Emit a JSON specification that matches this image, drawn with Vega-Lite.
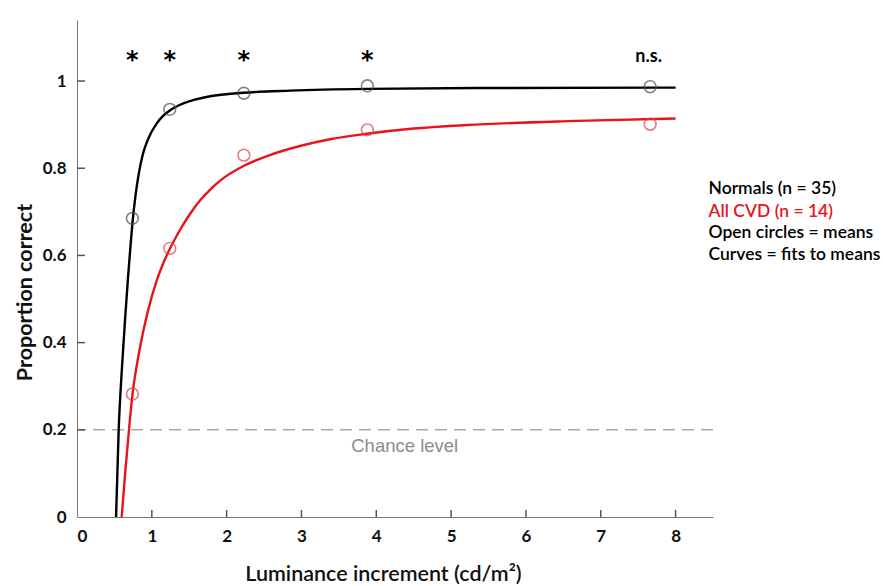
{
  "$schema": "https://vega.github.io/schema/vega-lite/v6.json",
  "width": 636,
  "height": 497,
  "autosize": {"type": "none"},
  "padding": {"left": 77, "top": 20, "right": 170, "bottom": 69},
  "background": "white",
  "config": {
    "font": "Lato",
    "view": {"stroke": null},
    "axis": {"grid": false, "ticks": false, "domainColor": "#777", "labelColor": "#111", "titleColor": "#111", "labelFont": "Lato", "labelFontSize": 17, "labelFontWeight": "bold", "titleFont": "Lato", "titleFontSize": 21.5, "titleFontWeight": "bold"}
  },
  "datasets": {
    "curves": [
      {"group": "Normals", "x": 0.522, "y": 0},
      {"group": "Normals", "x": 0.557, "y": 0.2},
      {"group": "Normals", "x": 0.6, "y": 0.34},
      {"group": "Normals", "x": 0.642, "y": 0.452},
      {"group": "Normals", "x": 0.68, "y": 0.545},
      {"group": "Normals", "x": 0.718, "y": 0.628},
      {"group": "Normals", "x": 0.74, "y": 0.672},
      {"group": "Normals", "x": 0.78, "y": 0.735},
      {"group": "Normals", "x": 0.82, "y": 0.782},
      {"group": "Normals", "x": 0.88, "y": 0.832},
      {"group": "Normals", "x": 0.953, "y": 0.868},
      {"group": "Normals", "x": 1.066, "y": 0.903},
      {"group": "Normals", "x": 1.15, "y": 0.92},
      {"group": "Normals", "x": 1.245, "y": 0.933},
      {"group": "Normals", "x": 1.37, "y": 0.945},
      {"group": "Normals", "x": 1.51, "y": 0.954},
      {"group": "Normals", "x": 1.78, "y": 0.965},
      {"group": "Normals", "x": 2.22, "y": 0.973},
      {"group": "Normals", "x": 2.85, "y": 0.978},
      {"group": "Normals", "x": 3.875, "y": 0.982},
      {"group": "Normals", "x": 5.5, "y": 0.984},
      {"group": "Normals", "x": 8, "y": 0.985},
      {"group": "CVD", "x": 0.597, "y": 0},
      {"group": "CVD", "x": 0.645, "y": 0.103},
      {"group": "CVD", "x": 0.696, "y": 0.203},
      {"group": "CVD", "x": 0.72, "y": 0.246},
      {"group": "CVD", "x": 0.744, "y": 0.285},
      {"group": "CVD", "x": 0.776, "y": 0.324},
      {"group": "CVD", "x": 0.8, "y": 0.349},
      {"group": "CVD", "x": 0.843, "y": 0.39},
      {"group": "CVD", "x": 0.94, "y": 0.467},
      {"group": "CVD", "x": 1.066, "y": 0.543},
      {"group": "CVD", "x": 1.15, "y": 0.581},
      {"group": "CVD", "x": 1.235, "y": 0.613},
      {"group": "CVD", "x": 1.355, "y": 0.652},
      {"group": "CVD", "x": 1.51, "y": 0.695},
      {"group": "CVD", "x": 1.65, "y": 0.727},
      {"group": "CVD", "x": 1.78, "y": 0.751},
      {"group": "CVD", "x": 1.91, "y": 0.771},
      {"group": "CVD", "x": 2.225, "y": 0.805},
      {"group": "CVD", "x": 2.54, "y": 0.828},
      {"group": "CVD", "x": 2.98, "y": 0.851},
      {"group": "CVD", "x": 3.4, "y": 0.867},
      {"group": "CVD", "x": 3.875, "y": 0.879},
      {"group": "CVD", "x": 4.5, "y": 0.891},
      {"group": "CVD", "x": 5.21, "y": 0.899},
      {"group": "CVD", "x": 6.55, "y": 0.908},
      {"group": "CVD", "x": 8, "y": 0.914}
    ],
    "means": [
      {"group": "Normals", "x": 0.74, "y": 0.685},
      {"group": "Normals", "x": 1.24, "y": 0.935},
      {"group": "Normals", "x": 2.23, "y": 0.972},
      {"group": "Normals", "x": 3.88, "y": 0.989},
      {"group": "Normals", "x": 7.66, "y": 0.987},
      {"group": "CVD", "x": 0.74, "y": 0.282},
      {"group": "CVD", "x": 1.24, "y": 0.616},
      {"group": "CVD", "x": 2.23, "y": 0.83},
      {"group": "CVD", "x": 3.88, "y": 0.888},
      {"group": "CVD", "x": 7.66, "y": 0.901}
    ],
    "stars": [
      {"x": 0.74, "y": 1.058, "label": "*"},
      {"x": 1.24, "y": 1.058, "label": "*"},
      {"x": 2.23, "y": 1.058, "label": "*"},
      {"x": 3.88, "y": 1.058, "label": "*"}
    ],
    "xticks": [
      {"x": 1, "y": 0}, {"x": 2, "y": 0}, {"x": 3, "y": 0}, {"x": 4, "y": 0},
      {"x": 5, "y": 0}, {"x": 6, "y": 0}, {"x": 7, "y": 0}, {"x": 8, "y": 0}
    ],
    "yticks": [
      {"x": 0, "y": 0.2}, {"x": 0, "y": 0.4}, {"x": 0, "y": 0.6}, {"x": 0, "y": 0.8}, {"x": 0, "y": 1}
    ],
    "notes": [
      {"x": 8.44, "y": 0.752, "label": "Normals (n = 35)", "kind": "Normals"},
      {"x": 8.44, "y": 0.700, "label": "All CVD (n = 14)", "kind": "CVD"},
      {"x": 8.44, "y": 0.651, "label": "Open circles = means", "kind": "Normals"},
      {"x": 8.44, "y": 0.601, "label": "Curves = fits to means", "kind": "Normals"}
    ]
  },
  "layer": [
    {
      "data": {"values": [{"y": 0.2}]},
      "mark": {"type": "rule", "color": "#aaaaaa", "strokeWidth": 1.5, "strokeDash": [12, 7]},
      "encoding": {"y": {"field": "y", "type": "quantitative", "scale": {"domain": [0, 1.14]}}}
    },
    {
      "data": {"name": "xticks"},
      "mark": {"type": "tick", "orient": "vertical", "size": 7, "thickness": 1.5, "color": "#555", "opacity": 1, "yOffset": -3.5},
      "encoding": {
        "x": {"field": "x", "type": "quantitative"},
        "y": {"field": "y", "type": "quantitative"}
      }
    },
    {
      "data": {"name": "yticks"},
      "mark": {"type": "tick", "orient": "horizontal", "size": 8, "thickness": 1.5, "color": "#555", "opacity": 1, "xOffset": 4},
      "encoding": {
        "x": {"field": "x", "type": "quantitative"},
        "y": {"field": "y", "type": "quantitative"}
      }
    },
    {
      "data": {"values": [{"x": 4.38, "y": 0.163, "label": "Chance level"}]},
      "mark": {"type": "text", "font": "Liberation Sans", "fontSize": 18.5, "color": "#8c8c8c", "align": "center", "baseline": "middle"},
      "encoding": {
        "x": {"field": "x", "type": "quantitative"},
        "y": {"field": "y", "type": "quantitative"},
        "text": {"field": "label"}
      }
    },
    {
      "data": {"name": "curves"},
      "mark": {"type": "line", "strokeWidth": 2.4, "interpolate": "monotone"},
      "encoding": {
        "x": {"field": "x", "type": "quantitative", "scale": {"domain": [0, 8.5], "nice": false},
          "axis": {"values": [0, 1, 2, 3, 4, 5, 6, 7, 8], "format": "d", "title": "Luminance increment (cd/m²)", "labelPadding": 11, "titleX": 306, "titleY": 57, "titleBaseline": "middle", "titleFontWeight": 600}},
        "y": {"field": "y", "type": "quantitative", "scale": {"domain": [0, 1.14], "nice": false},
          "axis": {"values": [0, 0.2, 0.4, 0.6, 0.8, 1], "title": "Proportion correct", "labelPadding": 11, "titleX": -52, "titleY": 272, "titleAngle": -90, "titleAlign": "center", "titleBaseline": "middle", "labelExpr": "datum.value == 0 ? '0' : datum.value == 1 ? '1' : datum.label"}},
        "color": {"field": "group", "type": "nominal", "scale": {"domain": ["Normals", "CVD"], "range": ["#000000", "#e8141c"]}, "legend": null},
        "detail": {"field": "group"}
      }
    },
    {
      "data": {"name": "means"},
      "mark": {"type": "point", "shape": "circle", "filled": false, "size": 140, "strokeWidth": 1.6},
      "encoding": {
        "x": {"field": "x", "type": "quantitative"},
        "y": {"field": "y", "type": "quantitative"},
        "stroke": {"field": "group", "type": "nominal", "scale": {"domain": ["Normals", "CVD"], "range": ["#505050", "#d9484a"]}, "legend": null}
      }
    },
    {
      "data": {"name": "stars"},
      "mark": {"type": "text", "font": "DejaVu Sans", "fontSize": 24, "fontWeight": "bold", "color": "#000", "align": "center", "baseline": "alphabetic", "dy": 12},
      "encoding": {
        "x": {"field": "x", "type": "quantitative"},
        "y": {"field": "y", "type": "quantitative"},
        "text": {"field": "label"}
      }
    },
    {
      "data": {"values": [{"x": 7.64, "y": 1.056, "label": "n.s."}]},
      "mark": {"type": "text", "fontSize": 18, "fontWeight": "bold", "color": "#000", "align": "center", "baseline": "middle"},
      "encoding": {
        "x": {"field": "x", "type": "quantitative"},
        "y": {"field": "y", "type": "quantitative"},
        "text": {"field": "label"}
      }
    },
    {
      "data": {"name": "notes"},
      "mark": {"type": "text", "fontSize": 17.5, "fontWeight": 600, "align": "left", "baseline": "middle"},
      "encoding": {
        "x": {"field": "x", "type": "quantitative"},
        "y": {"field": "y", "type": "quantitative"},
        "text": {"field": "label"},
        "color": {"field": "kind", "type": "nominal", "scale": {"domain": ["Normals", "CVD"], "range": ["#000000", "#e8141c"]}, "legend": null}
      }
    }
  ]
}
